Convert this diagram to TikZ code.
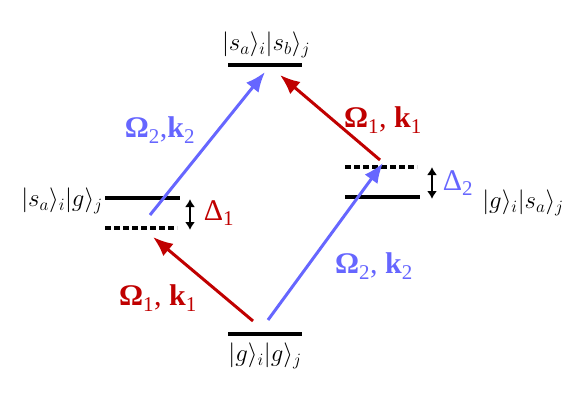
\documentclass[tikz,border=0pt]{standalone}
\usepackage{amsmath}
\usepackage{fontspec}
\setmainfont{Liberation Serif}
\usepackage{tikz}
\usetikzlibrary{arrows.meta,positioning}
\definecolor{lblue}{RGB}{102,102,255}
\definecolor{dred}{RGB}{192,0,0}

\begin{document}
\begin{tikzpicture}[x=1pt,y=-1pt,
  level/.style={line width=4pt},
  virt/.style={line width=4pt,dash pattern=on 6pt off 3pt},
  beam/.style={line width=3pt,-{Latex[length=20pt,width=16pt]}},
  detune/.style={line width=1.8pt,{Latex[length=8pt,width=10pt]}-{Latex[length=8pt,width=10pt]}},
  ket/.style={font=\fontsize{25}{25}\selectfont},
  lab/.style={font=\fontsize{30}{30}\selectfont}]
 	\useasboundingbox (0,0) rectangle (587,404);
 	%top level
 	\coordinate (T1) at (228,65);
 	\coordinate (T2) at (302,65);
 	\draw[level](T1) -- (T2);
 	\node[ket] (Tk) at (266,45) {$|s_a\rangle_i|s_b\rangle_j$};
 	%bottom level
 	\coordinate (B1) at (228,334);
 	\coordinate (B2) at (302,334);
 	\draw[level](B1) -- (B2);
 	\node[ket] (Bk) at (265,356) {$|g\rangle_i|g\rangle_j$};
 	%left level
 	\coordinate (L1) at (105,198);
 	\coordinate (L2) at (180,198);
 	\draw[level](L1) -- (L2);
 	\coordinate (LV1) at (105,228);
 	\coordinate (LV2) at (177,228);
 	\draw[virt](LV1) -- (LV2);
 	\node[ket] (Lk) at (62,201) {$|s_a\rangle_i|g\rangle_j$};
 	\coordinate (D1a) at (190,199);
 	\coordinate (D1b) at (190,230);
 	\draw[detune](D1a) -- (D1b);
 	\node[lab,text=dred] (D1) at (219,213) {Δ\textsubscript{1}};
 	%right level
 	\coordinate (R1) at (345,197);
 	\coordinate (R2) at (420,197);
 	\draw[level](R1) -- (R2);
 	\coordinate (RV1) at (345,167);
 	\coordinate (RV2) at (417,167);
 	\draw[virt](RV1) -- (RV2);
 	\node[ket] (Rk) at (523,203) {$|g\rangle_i|s_a\rangle_j$};
 	\coordinate (D2a) at (432,167);
 	\coordinate (D2b) at (432,199);
 	\draw[detune](D2a) -- (D2b);
 	\node[lab,text=lblue] (D2) at (458,183) {Δ\textsubscript{2}};
 	%beams
 	\coordinate (b1s) at (253,321);
 	\coordinate (b1e) at (153,237);
 	\draw[beam,dred](b1s) -- (b1e);
 	\node[lab,text=dred] (W1a) at (158,298) {\textbf{Ω}\textsubscript{1}, \textbf{k}\textsubscript{1}};
 	\coordinate (b2s) at (268,320);
 	\coordinate (b2e) at (383,163);
 	\draw[beam,lblue](b2s) -- (b2e);
 	\node[lab,text=lblue] (W2a) at (374,266) {\textbf{Ω}\textsubscript{2}, \textbf{k}\textsubscript{2}};
 	\coordinate (b3s) at (150,215);
 	\coordinate (b3e) at (265,72);
 	\draw[beam,lblue](b3s) -- (b3e);
 	\node[lab,text=lblue] (W2b) at (160,130) {\textbf{Ω}\textsubscript{2},\textbf{k}\textsubscript{2}};
 	\coordinate (b4s) at (380,160);
 	\coordinate (b4e) at (280,75);
 	\draw[beam,dred](b4s) -- (b4e);
 	\node[lab,text=dred] (W1b) at (383,120) {\textbf{Ω}\textsubscript{1}, \textbf{k}\textsubscript{1}};
\end{tikzpicture}
\end{document}
